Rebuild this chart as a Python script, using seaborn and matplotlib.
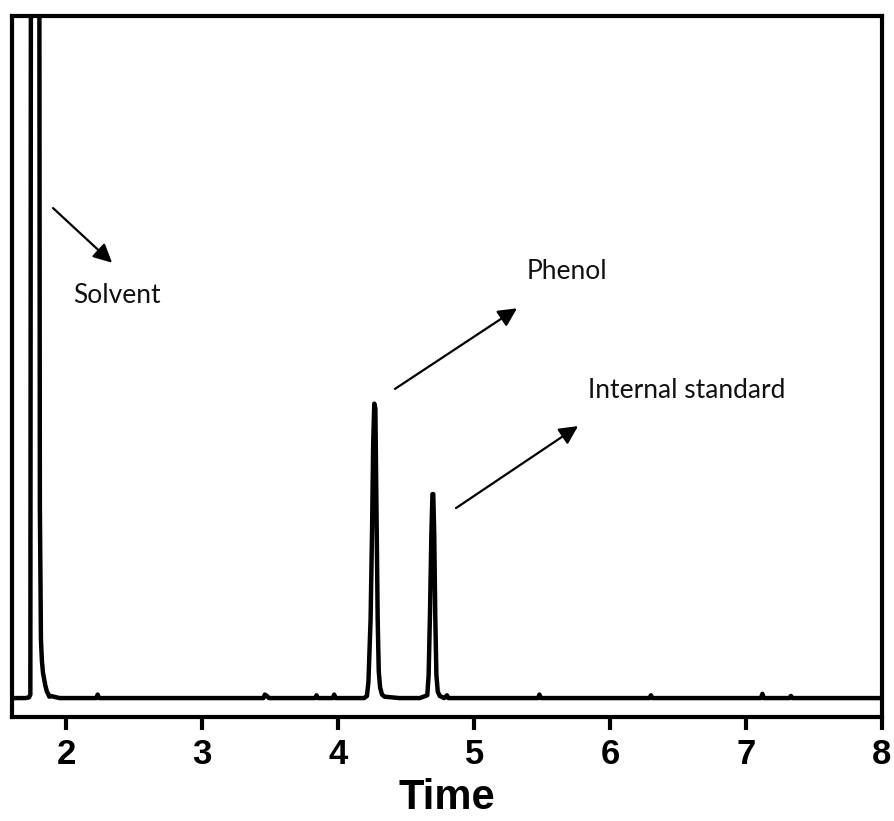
import matplotlib
matplotlib.use("Agg")
import matplotlib.pyplot as plt
import seaborn as sns
import pandas as pd

# Retention time (min) and detector signal (arbitrary units)
time = [1.600, 1.700, 1.725, 1.735, 1.740, 1.800, 1.805, 1.813, 1.820, 1.828,
        1.845, 1.857, 1.866, 1.874, 1.885, 1.950, 2.220, 2.230, 2.240, 2.600,
        3.450, 3.460, 3.475, 3.490, 3.830, 3.840, 3.850, 3.960, 3.970, 3.980,
        4.190, 4.211, 4.222, 4.238, 4.249, 4.257, 4.265, 4.273, 4.281, 4.290,
        4.298, 4.308, 4.322, 4.340, 4.450, 4.600, 4.655, 4.665, 4.675, 4.685,
        4.693, 4.699, 4.706, 4.714, 4.722, 4.732, 4.747, 4.780, 4.800, 4.810,
        5.000, 5.470, 5.480, 5.490, 6.000, 6.290, 6.300, 6.310, 7.000, 7.110,
        7.120, 7.130, 7.320, 7.330, 7.340, 8.000]
signal = [2.7, 2.7, 2.8, 3.2, 130.0, 130.0, 30.0, 11.0, 8.0, 6.3,
          4.5, 3.6, 3.3, 2.9, 3.0, 2.7, 2.7, 3.2, 2.7, 2.7,
          2.7, 3.2, 3.0, 2.7, 2.7, 3.1, 2.7, 2.7, 3.2, 2.7,
          2.7, 3.0, 5.0, 14.0, 27.0, 39.0, 44.7, 44.0, 30.0, 14.0,
          6.5, 4.2, 3.2, 2.9, 2.7, 2.7, 3.1, 6.0, 15.0, 26.0,
          31.8, 31.8, 26.0, 14.0, 6.0, 3.6, 3.0, 2.7, 3.1, 2.7,
          2.7, 2.7, 3.2, 2.7, 2.7, 2.7, 3.1, 2.7, 2.7, 2.7,
          3.3, 2.7, 2.7, 3.0, 2.7, 2.7]

# Peak labels: (text, text anchor time, text baseline signal, arrow start, arrow tip)
peak_names = ["Solvent", "Phenol", "Internal standard"]
label_pos = [(2.049, 59.1), (5.388, 62.5), (5.837, 45.5)]
arrow_start = [(1.902, 72.6), (4.417, 46.8), (4.866, 29.8)]
arrow_tip = [(2.336, 64.8), (5.315, 58.3), (5.764, 41.5)]

xticks = [2, 3, 4, 5, 6, 7, 8]

sns.set_style("ticks")
plt.rcParams["font.family"] = ["Liberation Sans", "DejaVu Sans"]

fig = plt.figure(figsize=(8.94, 8.21), dpi=100)
ax = fig.add_axes([12 / 894, 1 - 717 / 821, 870 / 894, 701 / 821])

df = pd.DataFrame({"Time": time, "Signal": signal})
sns.lineplot(data=df, x="Time", y="Signal", ax=ax, color="black", lw=3.2,
             sort=False, estimator=None)

ax.set_xlim(1.6, 8.0)
ax.set_ylim(0, 100)
ax.set_xticks(xticks)
ax.set_xticklabels([str(t) for t in xticks], fontsize=25, fontweight="bold",
                   color="black")
ax.set_yticks([])
ax.set_ylabel("")
ax.set_xlabel("Time", fontsize=30, fontweight="bold", labelpad=5, color="black")
ax.tick_params(axis="x", direction="out", length=9, width=3, pad=6, colors="black")

for side in ["left", "right", "top", "bottom"]:
    ax.spines[side].set_visible(True)
    ax.spines[side].set_linewidth(3)
    ax.spines[side].set_color("black")

for name, (tx, ty), s, e in zip(peak_names, label_pos, arrow_start, arrow_tip):
    ax.text(tx, ty, name, fontsize=19, family=["Lato", "DejaVu Sans"],
            ha="left", va="baseline", color="#111111")
    ax.annotate("", xy=e, xytext=s,
                arrowprops=dict(arrowstyle="-|>", lw=1.6, color="black",
                                mutation_scale=28, shrinkA=0, shrinkB=0))

fig.savefig("out.png", dpi=100)
